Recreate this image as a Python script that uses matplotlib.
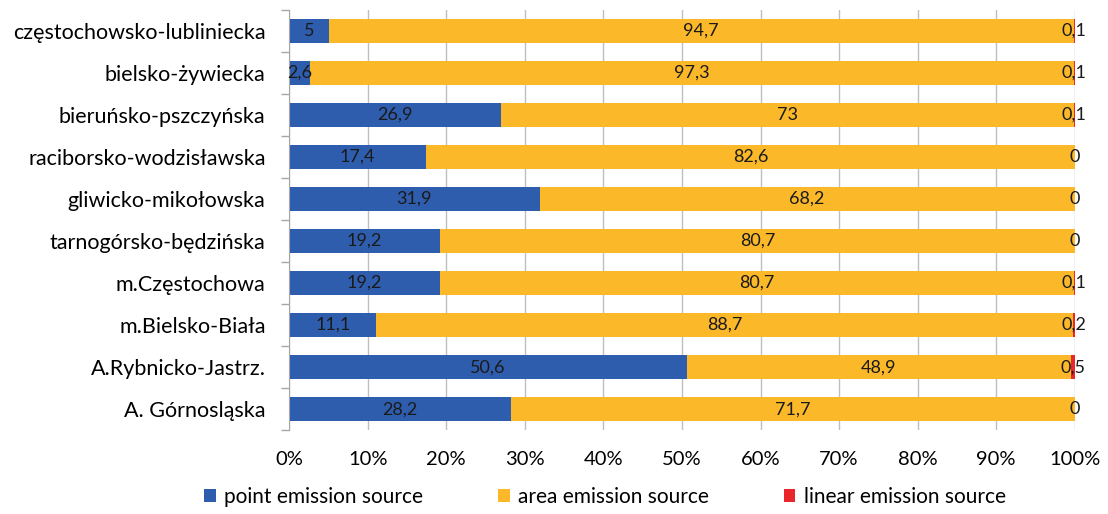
import numpy as np
import matplotlib.pyplot as plt
from matplotlib.ticker import FixedLocator

plt.rcParams["font.family"] = ["Lato", "DejaVu Sans"]
plt.rcParams["font.size"] = 12

# >>>>>>>>>>>>>>  data (share of emission by source type, %)
regions = ["częstochowsko-lubliniecka", "bielsko-żywiecka", "bieruńsko-pszczyńska",
           "raciborsko-wodzisławska", "gliwicko-mikołowska", "tarnogórsko-będzińska",
           "m.Częstochowa", "m.Bielsko-Biała", "A.Rybnicko-Jastrz.", "A. Górnosląska"]
point = [5, 2.6, 26.9, 17.4, 31.9, 19.2, 19.2, 11.1, 50.6, 28.2]
area = [94.7, 97.3, 73, 82.6, 68.2, 80.7, 80.7, 88.7, 48.9, 71.7]
linear = [0.1, 0.1, 0.1, 0, 0, 0, 0.1, 0.2, 0.5, 0]
series_names = ["point emission source", "area emission source", "linear emission source"]
colors = ["#2F5DAE", "#FBB829", "#E8262B"]


def fmt(v):
    return ("%g" % v).replace(".", ",")


# >>>>>>>>>>>>>> plotting
fig = plt.figure(figsize=(11.08, 5.14), dpi=100)
ax = fig.add_axes([0.261, 0.163, 0.709, 0.818])

data = np.array([point, area, linear], dtype=float)
share = data / data.sum(axis=0) * 100
y = np.arange(len(regions))
left = np.zeros(len(regions))
handles = []
for k in range(3):
    h = ax.barh(y, share[k], left=left, height=0.56, color=colors[k],
                label=series_names[k], zorder=2)
    handles.append(h)
    for i in range(len(regions)):
        xc = left[i] + share[k][i] / 2
        ax.text(xc, y[i], fmt(data[k][i]), ha="center", va="center",
                fontsize=13, color="#1a1a1a", zorder=3)
    left += share[k]

ax.set_xlim(0, 100)
ax.set_ylim(len(regions) - 0.5, -0.5)
ax.set_xticks(np.arange(0, 101, 10))
ax.set_xticklabels(["%d%%" % v for v in range(0, 101, 10)], fontsize=14.5)
ax.set_yticks(y)
ax.set_yticklabels(regions, fontsize=15.5)
ax.yaxis.set_minor_locator(FixedLocator(np.arange(-0.5, len(regions), 1)))
ax.tick_params(axis="y", which="major", length=0, pad=17)
ax.tick_params(axis="y", which="minor", length=6, color="#A6A6A6", width=1)
ax.tick_params(axis="x", length=0, pad=15)
ax.grid(axis="x", color="#BFBFBF", linewidth=1, zorder=0)
for s in ["top", "right", "bottom"]:
    ax.spines[s].set_visible(False)
ax.spines["left"].set_color("#A6A6A6")

fig.legend(handles=handles, loc="center", bbox_to_anchor=(0.546, 0.033), ncol=3,
           frameon=False, fontsize=15, handlelength=0.55, handleheight=0.6,
           handletextpad=0.4, columnspacing=3.6)

plt.savefig("out.png", dpi=100)
